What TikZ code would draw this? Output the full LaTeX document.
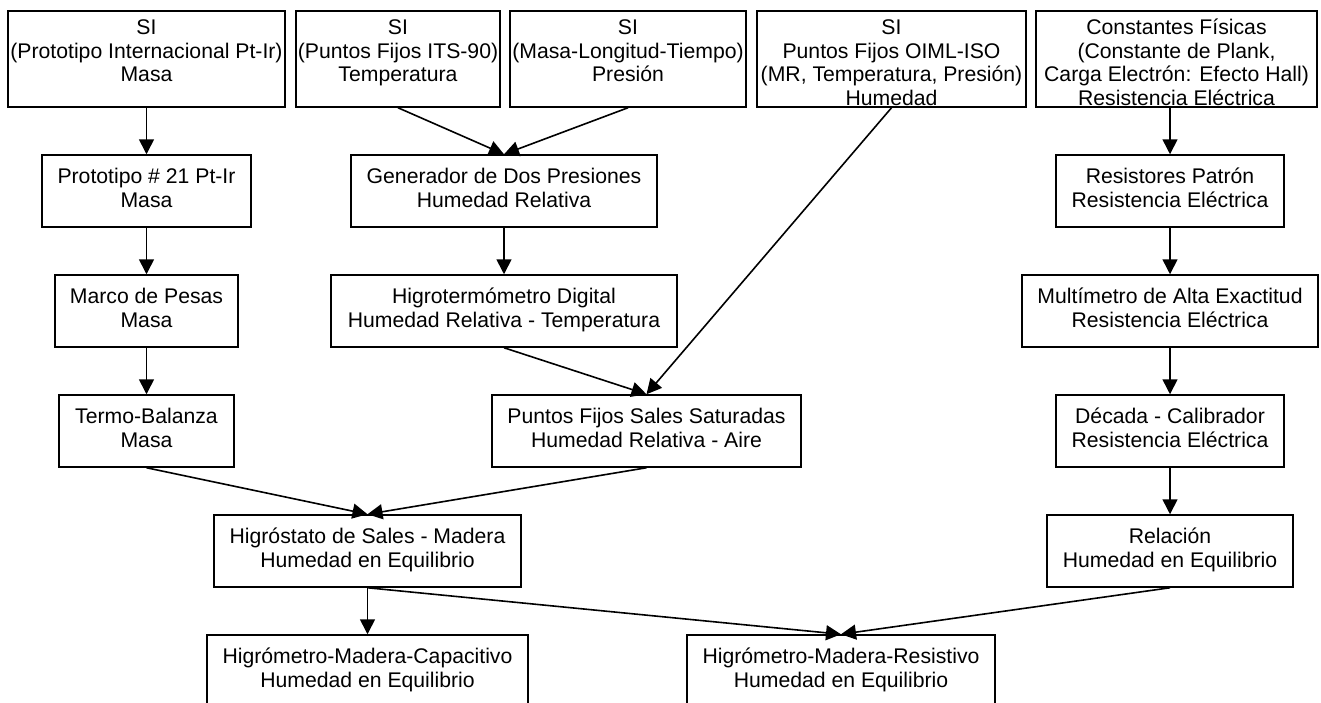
\documentclass[tikz,border=0pt]{standalone}
\usepackage{fontspec}
\setmainfont{Liberation Sans}
\usetikzlibrary{arrows.meta}
\begin{document}
\begin{tikzpicture}[x=1pt,y=-1pt,
  box/.style={draw, line width=1.5pt, rectangle, inner sep=0pt, align=center,
    font=\fontsize{21.2}{23.5}\selectfont, minimum height=72pt},
  topbox/.style={draw, line width=1.5pt, rectangle, inner sep=0pt, minimum height=96pt},
  toptxt/.style={inner sep=0pt, anchor=north, align=center,
    font=\fontsize{21.2}{23.5}\selectfont},
  arr/.style={line width=1.6pt, -{Triangle[length=15pt,width=15pt]}}]
\useasboundingbox (0,0) rectangle (1321,702);
\fill[white] (0,0) rectangle (1321,702);
\clip (0,0) rectangle (1321,702);
% top row
\node[topbox, minimum width=277pt] (s1) at (146.5,59) {};
\node[topbox, minimum width=204pt] (s2) at (398,59) {};
\node[topbox, minimum width=236pt] (s3) at (628,59) {};
\node[topbox, minimum width=269pt] (s4) at (891.5,59) {};
\node[topbox, minimum width=281pt] (s5) at (1176.5,59) {};
\node[toptxt] (t1) at ([yshift=-8pt]s1.north) {\strut SI\\\strut (Prototipo Internacional Pt-Ir)\\\strut Masa};
\node[toptxt] (t2) at ([yshift=-8pt]s2.north) {\strut SI\\\strut (Puntos Fijos ITS-90)\\\strut Temperatura};
\node[toptxt] (t3) at ([yshift=-8pt]s3.north) {\strut SI\\\strut (Masa-Longitud-Tiempo)\\\strut Presión};
\node[toptxt] (t4) at ([yshift=-8pt]s4.north) {\strut SI\\\strut Puntos Fijos OIML-ISO\\\strut (MR, Temperatura, Presión)\\\strut Humedad};
\node[toptxt] (t5) at ([yshift=-8pt]s5.north) {\strut Constantes Físicas\\\strut (Constante de Plank,\\\strut Carga Electrón: Efecto Hall)\\\strut Resistencia Eléctrica};
% left column
\node[box, minimum width=209pt] (proto) at (146.5,191) {\strut Prototipo \# 21 Pt-Ir\\\strut Masa};
\node[box, minimum width=183pt] (marco) at (146.5,311) {\strut Marco de Pesas\\\strut Masa};
\node[box, minimum width=175pt] (termo) at (146.5,431) {\strut Termo-Balanza\\\strut Masa};
% middle column
\node[box, minimum width=306pt] (gen) at (504,191) {\strut Generador de Dos Presiones\\\strut Humedad Relativa};
\node[box, minimum width=346pt] (higro) at (504,311) {\strut Higrotermómetro Digital\\\strut Humedad Relativa - Temperatura};
\node[box, minimum width=309pt] (puntos) at (646.5,431) {\strut Puntos Fijos Sales Saturadas\\\strut Humedad Relativa - Aire};
% right column
\node[box, minimum width=228pt] (res) at (1170,191) {\strut Resistores Patrón\\\strut Resistencia Eléctrica};
\node[box, minimum width=296pt] (multi) at (1170,311) {\strut Multímetro de Alta Exactitud\\\strut Resistencia Eléctrica};
\node[box, minimum width=228pt] (deca) at (1170,431) {\strut Década - Calibrador\\\strut Resistencia Eléctrica};
\node[box, minimum width=246pt] (rel) at (1170,551) {\strut Relación\\\strut Humedad en Equilibrio};
% lower rows
\node[box, minimum width=307pt] (hsal) at (367.5,551) {\strut Higróstato de Sales - Madera\\\strut Humedad en Equilibrio};
\node[box, minimum width=321pt] (cap) at (367.5,671) {\strut Higrómetro-Madera-Capacitivo\\\strut Humedad en Equilibrio};
\node[box, minimum width=308pt] (resv) at (841,671) {\strut Higrómetro-Madera-Resistivo\\\strut Humedad en Equilibrio};
% connectors
\draw[arr] (s1.south) -- (proto.north);
\draw[arr] (proto.south) -- (marco.north);
\draw[arr] (marco.south) -- (termo.north);
\draw[arr] (s2.south) -- (gen.north);
\draw[arr] (s3.south) -- (gen.north);
\draw[arr] (gen.south) -- (higro.north);
\draw[arr] (higro.south) -- (puntos.north);
\draw[arr] (s4.south) -- (puntos.north);
\draw[arr] (res.north |- s5.south) -- (res.north);
\draw[arr] (res.south) -- (multi.north);
\draw[arr] (multi.south) -- (deca.north);
\draw[arr] (deca.south) -- (rel.north);
\draw[arr] (termo.south) -- (hsal.north);
\draw[arr] (puntos.south) -- (hsal.north);
\draw[arr] (hsal.south) -- (cap.north);
\draw[arr] (hsal.south) -- (resv.north);
\draw[arr] (rel.south) -- (resv.north);
\end{tikzpicture}
\end{document}
